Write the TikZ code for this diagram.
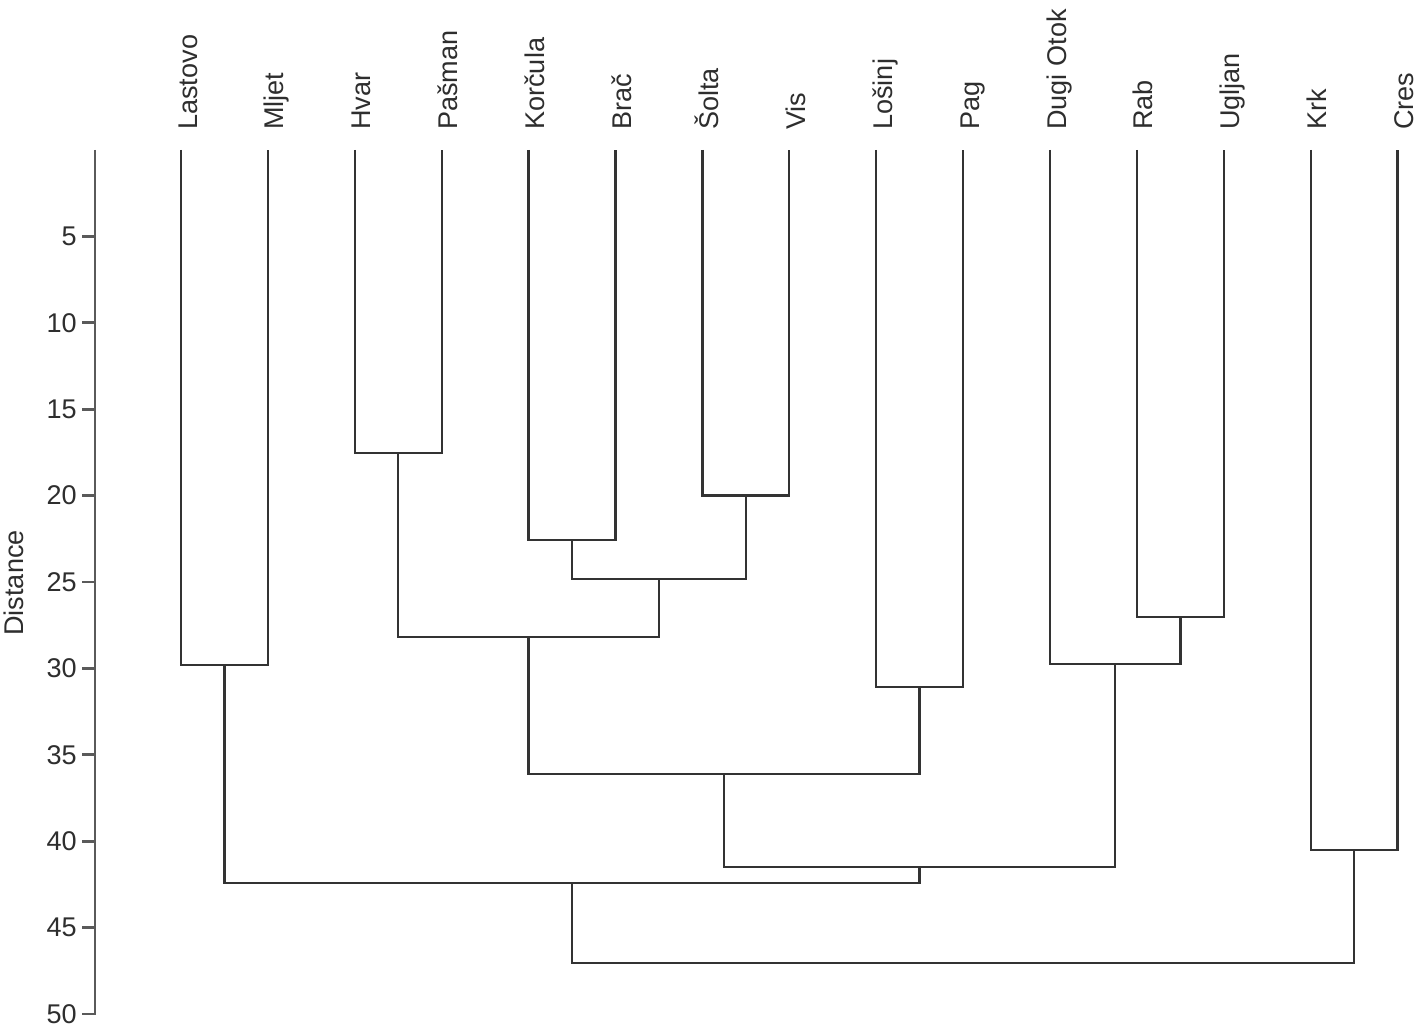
\documentclass[tikz,border=0pt]{standalone}
\usepackage{fontspec}
\setmainfont{Liberation Sans}
\usepackage{xcolor}
\usetikzlibrary{positioning}

\definecolor{linegray}{HTML}{333333}
\definecolor{axisgray}{HTML}{5A5A5A}
\definecolor{textgray}{HTML}{2E2E2E}

\begin{document}
\begin{tikzpicture}[
  x=0.02cm, y=-0.02cm,
  link/.style={draw=linegray, line width=1.35pt},
  axis/.style={draw=axisgray, line width=1.7pt},
  leaflabel/.style={rotate=90, anchor=base west, inner sep=0pt, text=textgray, font=\fontsize{15.4}{18}\selectfont},
  ticklabel/.style={anchor=east, inner sep=0pt, text=textgray, font=\fontsize{15.4}{18}\selectfont}
]
\useasboundingbox (0,0) rectangle (1418,1030);
% axis
\draw[axis] (95,150) -- (95,1015);
\foreach \d in {5,10,...,50} {
  \draw[axis] (82,{150+17.28*\d}) -- (95,{150+17.28*\d});
  \node[ticklabel] (t\d) at (77,{150+17.28*\d}) {\d};
}
\node[rotate=90, text=textgray, font=\fontsize{15.4}{18}\selectfont] (ylab) at (14,583) {Distance};
% leaves
\foreach \name [count=\i from 0] in {Lastovo, Mljet, Hvar, Pašman, Korčula, Brač, Šolta, Vis, Lošinj, Pag, Dugi Otok, Rab, Ugljan, Krk, Cres} {
  \coordinate (l\i) at ({181+86.9*\i},150);
  \node[leaflabel] (n\i) at ({197+86.9*\i},130) {\name};
}
% merge points
\coordinate (mLM) at (224.45,665);
\coordinate (mHP) at (398.25,453);
\coordinate (mKB) at (572.05,540);
\coordinate (mSV) at (745.85,495.5);
\coordinate (mKBSV) at (658.95,579);
\coordinate (mHPKS) at (528.6,637);
\coordinate (mLP) at (919.65,687);
\coordinate (mRU) at (1180.35,617);
\coordinate (mDRU) at (1115.2,664);
\coordinate (mA) at (724.1,774);
\coordinate (mB) at (919.65,867);
\coordinate (mC) at (572.05,883);
\coordinate (mKC) at (1354.15,850);
\coordinate (mRoot) at (963.1,963);
% links
\draw[link] (l0) |- (mLM) -| (l1);
\draw[link] (l2) |- (mHP) -| (l3);
\draw[link] (l4) |- (mKB) -| (l5);
\draw[link] (l6) |- (mSV) -| (l7);
\draw[link] (mKB) |- (mKBSV) -| (mSV);
\draw[link] (mHP) |- (mHPKS) -| (mKBSV);
\draw[link] (l8) |- (mLP) -| (l9);
\draw[link] (l11) |- (mRU) -| (l12);
\draw[link] (l10) |- (mDRU) -| (mRU);
\draw[link] (mHPKS) |- (mA) -| (mLP);
\draw[link] (mA) |- (mB) -| (mDRU);
\draw[link] (mLM) |- (mC) -| (mB);
\draw[link] (l13) |- (mKC) -| (l14);
\draw[link] (mC) |- (mRoot) -| (mKC);
\end{tikzpicture}
\end{document}
